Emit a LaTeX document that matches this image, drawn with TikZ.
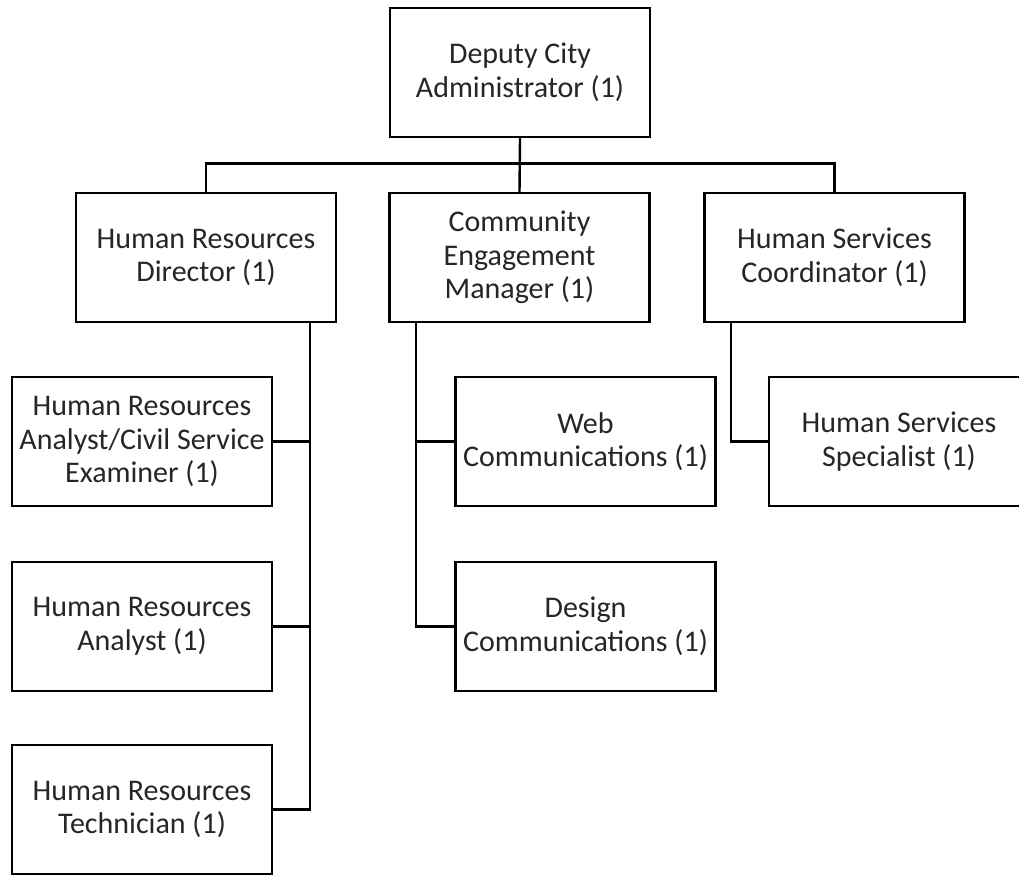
\documentclass[tikz,border=0pt]{standalone}
\usepackage{fontspec}
\setmainfont{Carlito}
\begin{document}
\begin{tikzpicture}[x=1pt,y=-1pt,
  box/.style={draw=black, line width=2.4pt, minimum width=260pt, minimum height=129pt,
    inner sep=0pt, align=center, font=\fontsize{30}{33.5}\selectfont, text=black!85},
  conn/.style={draw=black, line width=2.4pt}]
\useasboundingbox (0,0) rectangle (1019,875);
\fill[white] (0,0) rectangle (1019,875);
\clip (0,0) rectangle (1019,875);
% nodes
\node[box] (dca)  at (520,72.5)   {Deputy City\\Administrator (1)};
\node[box] (hrd)  at (206,257.5)  {Human Resources\\Director (1)};
\node[box] (cem)  at (519.5,257.5){Community\\Engagement\\Manager (1)};
\node[box] (hsc)  at (834.5,257.5){Human Services\\Coordinator (1)};
\node[box] (hra1) at (142,441.5)  {Human Resources\\Analyst/Civil Service\\Examiner (1)};
\node[box] (hra2) at (142,626.5)  {Human Resources\\Analyst (1)};
\node[box] (hrt)  at (142,809.5)  {Human Resources\\Technician (1)};
\node[box] (web)  at (585.5,441.5){Web\\Communications (1)};
\node[box] (des)  at (585.5,626.5){Design\\Communications (1)};
\node[box] (hss)  at (899,441.5)  {Human Services\\Specialist (1)};
% connector spines
\coordinate (hrv)  at ([xshift=104pt]hrd.south);
\coordinate (cemv) at ([xshift=-103.5pt]cem.south);
\coordinate (hscv) at ([xshift=-103.5pt]hsc.south);
% top level
\draw[conn] (dca.south) -- (cem.north);
\draw[conn] (hrd.north) -- ++(0,-28.5) -| (hsc.north);
% HR branch
\draw[conn] (hrv) |- (hrt.east);
\draw[conn] (hra1.east) -- (hra1.east -| hrv);
\draw[conn] (hra2.east) -- (hra2.east -| hrv);
% Community branch
\draw[conn] (cemv) |- (des.west);
\draw[conn] (web.west) -- (web.west -| cemv);
% Human services branch
\draw[conn] (hscv) |- (hss.west);
\end{tikzpicture}
\end{document}
